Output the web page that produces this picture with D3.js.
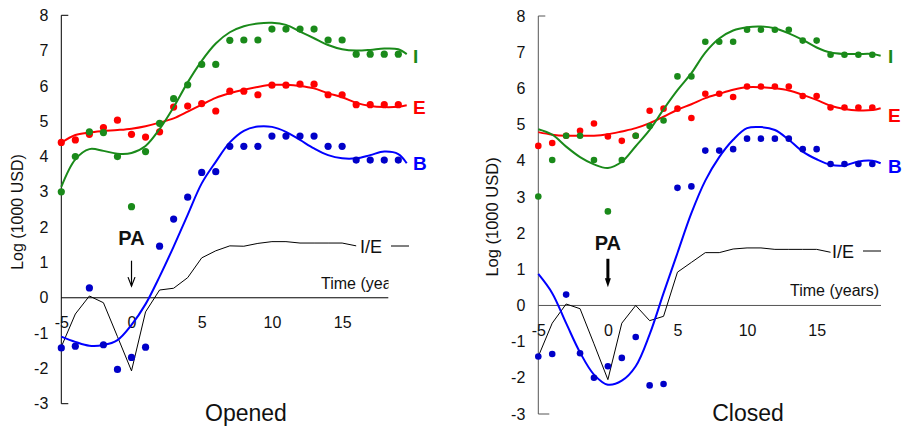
<!DOCTYPE html>
<html>
<head>
<meta charset="utf-8">
<script src="https://cdn.jsdelivr.net/npm/d3@7"></script>
<style>
  body { margin: 0; background: #fff; }
  text { font-family: "Liberation Sans", Arial, sans-serif; }
</style>
</head>
<body>
<div id="chart"></div>
<script>
// years of the observations
const years = [-5,-4,-3,-2,-1,0,1,2,3,4,5,6,7,8,9,10,11,12,13,14,15,16,17,18,19];
const fitYears = [-5,-4,-3,-2,-1,0,1,2,3,4,5,6,7,8,9,10,11,12,13,14,15,16,17,18,19,19.6];
const ieYears = [-5,-4,-3,-2,-1,0,1,2,3,4,5,6,7,8,9,10,11,12,13,14,15,16];
const xTicks = [-5,0,5,10,15];
const yTicks = [-3,-2,-1,0,1,2,3,4,5,6,7,8];

// Opened
const openI = [3.0,4.0,4.7,4.68,4.0,2.58,4.14,4.94,5.64,6.03,6.61,6.61,7.29,7.3,7.3,7.61,7.61,7.61,7.61,7.3,7.3,6.9,6.9,6.9,6.9];
const openE = [4.4,4.47,4.63,4.82,5.03,4.63,4.55,4.7,5.4,5.43,5.5,5.29,5.85,5.85,5.75,6.02,6.02,6.05,6.05,5.75,5.75,5.47,5.47,5.47,5.47];
const openB = [-1.42,-1.37,0.28,-1.33,-2.03,-1.69,-1.4,1.46,2.23,2.85,3.55,3.57,4.29,4.29,4.29,4.58,4.58,4.58,4.58,4.29,4.29,3.9,3.9,3.9,3.9];
const openFitI = [3.14,3.92,4.21,4.16,4.08,4.1,4.3,4.78,5.4,6.1,6.71,7.2,7.52,7.69,7.77,7.79,7.73,7.54,7.35,7.16,7.04,7.0,7.02,7.06,7.04,6.9];
const openFitE = [4.39,4.61,4.68,4.72,4.75,4.79,4.86,4.96,5.08,5.27,5.47,5.66,5.79,5.89,5.97,6.03,6.03,6.0,5.93,5.79,5.68,5.52,5.43,5.4,5.41,5.45];
const openFitB = [-1.1,-1.25,-1.36,-1.34,-1.2,-0.77,-0.18,0.6,1.45,2.35,3.24,3.85,4.4,4.73,4.85,4.84,4.7,4.47,4.23,4.04,3.95,3.95,4.04,4.14,4.07,3.81];
const openIE = [-1.39,-0.46,0.05,-0.14,-1.1,-2.07,-0.4,0.22,0.27,0.57,1.13,1.33,1.47,1.46,1.54,1.59,1.59,1.55,1.55,1.55,1.55,1.47];

// Closed
const closeI = [3.01,4.02,4.69,4.69,4.02,2.6,4.02,4.69,4.96,5.11,6.33,6.33,7.29,7.29,7.29,7.62,7.62,7.62,7.62,7.32,7.32,6.93,6.93,6.93,6.93];
const closeE = [4.41,4.49,4.69,4.83,5.03,4.67,4.55,4.69,5.38,5.44,5.44,5.18,5.85,5.85,5.76,6.05,6.05,6.05,6.05,5.79,5.79,5.47,5.47,5.47,5.47];
const closeB = [-1.41,-1.34,0.30,-1.32,-2.0,-1.68,-1.45,-0.87,-2.21,-2.17,3.25,3.29,4.28,4.28,4.32,4.61,4.61,4.61,4.61,4.32,4.32,3.91,3.91,3.91,3.91];
const closeFitI = [4.87,4.72,4.39,4.1,3.9,3.8,3.97,4.4,4.85,5.42,5.95,6.42,6.99,7.38,7.6,7.69,7.71,7.66,7.52,7.34,7.13,6.99,6.95,6.95,6.95,6.9];
const closeFitE = [4.79,4.72,4.69,4.69,4.69,4.73,4.81,4.9,5.04,5.22,5.41,5.56,5.73,5.85,5.96,6.03,6.03,6.0,5.94,5.82,5.68,5.52,5.43,5.39,5.4,5.45];
const closeFitB = [0.87,0.34,-0.49,-1.3,-1.91,-2.19,-2.08,-1.68,-0.8,0.34,1.45,2.55,3.45,4.1,4.58,4.9,4.93,4.85,4.58,4.25,4.04,3.89,3.87,3.98,4.0,3.93];
const closeIE = [-1.41,-0.49,0.04,-0.09,-1.06,-2.05,-0.49,0.0,-0.42,-0.3,0.92,1.19,1.46,1.46,1.56,1.59,1.59,1.55,1.55,1.55,1.55,1.47];

const green = "#1a8a1a", red = "#ff0000", blue = "#0000ff", dotBlue = "#0000c8";

const svg = d3.select("#chart").append("svg")
  .attr("width", 902)
  .attr("height", 431);

svg.append("defs").append("clipPath").attr("id", "clipL")
  .append("rect").attr("x", 0).attr("y", 0).attr("width", 388.5).attr("height", 431);

function panel(p) {
  var x = d3.scaleLinear().domain([-5, 19]).range([p.x0, p.x1]);
  var y = d3.scaleLinear().domain([-3, 8]).range([p.yb, p.yt]);
  var g = svg.append("g");

  // y axis bracket
  g.append("path")
    .attr("d", "M" + (x(-5) + p.tick) + "," + y(8) + "H" + x(-5) + "V" + y(-3) + "H" + (x(-5) + p.tickB))
    .attr("fill", "none").attr("stroke", p.axisColor).attr("stroke-width", 1);

  var ya = g.append("g")
    .attr("transform", "translate(" + x(-5) + ",0)")
    .call(d3.axisLeft(y).tickValues(yTicks).tickSize(0).tickPadding(p.yPad).tickFormat(d => String(d)));
  ya.select(".domain").remove();
  ya.selectAll("text").style("font-size", p.fs + "px").attr("fill", "#111");

  // x axis at zero
  g.append("line")
    .attr("x1", x(-5)).attr("x2", p.xEnd)
    .attr("y1", y(0)).attr("y2", y(0))
    .attr("stroke", p.axisColor).attr("stroke-width", 1);

  var xa = g.append("g")
    .attr("transform", "translate(0," + y(0) + ")")
    .call(d3.axisBottom(x).tickValues(xTicks).tickSize(0).tickPadding(p.xPad).tickFormat(d => String(d)));
  xa.select(".domain").remove();
  xa.selectAll("text").style("font-size", p.fs + "px").attr("fill", "#111");

  var tl = g.append("text")
    .attr("x", p.timeX).attr("y", y(0) - 9)
    .style("font-size", p.timeFs + "px")
    .attr("fill", "#111")
    .text("Time (years)");
  if (p.clip) tl.attr("clip-path", "url(#" + p.clip + ")");

  g.append("text")
    .attr("transform", "translate(" + p.labX + "," + p.labY + ") rotate(-90)")
    .attr("text-anchor", "middle")
    .style("font-size", p.labFs + "px")
    .attr("fill", "#111")
    .text("Log (1000 USD)");

  // I/E line
  var ie = d3.line().x((d, i) => x(ieYears[i])).y(d => y(d));
  g.append("path").datum(p.ie)
    .attr("d", ie).attr("fill", "none").attr("stroke", "#000").attr("stroke-width", 1);

  var fit = d3.line().x((d, i) => x(fitYears[i])).y(d => y(d)).curve(d3.curveCatmullRom);

  var series = [
    { dots: p.E, fit: p.fitE, c: red, dc: red },
    { dots: p.I, fit: p.fitI, c: green, dc: green },
    { dots: p.B, fit: p.fitB, c: blue, dc: dotBlue }
  ];
  series.forEach(function(s) {
    g.append("path").datum(s.fit)
      .attr("d", fit).attr("fill", "none").attr("stroke", s.c).attr("stroke-width", 2);
    g.selectAll(null).data(s.dots).enter().append("circle")
      .attr("cx", (d, i) => x(years[i]))
      .attr("cy", d => y(d))
      .attr("r", p.r)
      .attr("fill", s.dc);
  });

  // series names
  [["I", green, p.labI], ["E", red, p.labE], ["B", blue, p.labB]].forEach(function(l) {
    g.append("text")
      .attr("x", x(p.nameX)).attr("y", y(l[2]))
      .attr("dy", "0.36em")
      .style("font-size", "19px").style("font-weight", "bold")
      .attr("fill", l[1])
      .text(l[0]);
  });

  // I/E label
  g.append("text")
    .attr("x", p.ieX).attr("y", p.ieY)
    .style("font-size", "18px").attr("fill", "#111")
    .text("I/E");
  g.append("line")
    .attr("x1", p.ieX + 31).attr("x2", p.ieX + 49)
    .attr("y1", p.ieY - 7).attr("y2", p.ieY - 7)
    .attr("stroke", "#000").attr("stroke-width", 1);

  // PA and arrow
  g.append("text")
    .attr("x", x(0)).attr("y", y(p.paY))
    .attr("text-anchor", "middle")
    .style("font-size", "20px").style("font-weight", "bold")
    .attr("fill", "#111")
    .text("PA");
  if (p.thick) {
    g.append("line").attr("x1", x(0)).attr("x2", x(0))
      .attr("y1", y(p.arrTop)).attr("y2", y(p.arrBot) - 8)
      .attr("stroke", "#000").attr("stroke-width", 3);
    g.append("path")
      .attr("d", "M" + (x(0) - 3) + "," + (y(p.arrBot) - 9) + "L" + x(0) + "," + y(p.arrBot) + "L" + (x(0) + 3) + "," + (y(p.arrBot) - 9) + "Z")
      .attr("fill", "#000");
  } else {
    g.append("line").attr("x1", x(0)).attr("x2", x(0))
      .attr("y1", y(p.arrTop)).attr("y2", y(p.arrBot))
      .attr("stroke", "#000").attr("stroke-width", 1.2);
    g.append("path")
      .attr("d", "M" + (x(0) - 3.5) + "," + (y(p.arrBot) - 9) + "L" + x(0) + "," + y(p.arrBot) + "L" + (x(0) + 3.5) + "," + (y(p.arrBot) - 9))
      .attr("fill", "none").attr("stroke", "#000").attr("stroke-width", 1.2);
  }

  g.append("text")
    .attr("x", p.titleX).attr("y", 421)
    .attr("text-anchor", "middle")
    .style("font-size", "23px").attr("fill", "#111")
    .text(p.title);
}

panel({
  x0: 61.3, x1: 398.3, yt: 15.3, yb: 403.7, xEnd: 388.3,
  tick: 7, tickB: 7, axisColor: "#000", yPad: 13, xPad: 19, fs: 16,
  timeX: 321, timeFs: 16, clip: "clipL", labX: 23, labY: 212, labFs: 16,
  I: openI, E: openE, B: openB, fitI: openFitI, fitE: openFitE, fitB: openFitB, ie: openIE,
  r: 3.6, nameX: 20.05, labI: 6.84, labE: 5.41, labB: 3.82,
  ieX: 360, ieY: 253, paY: 1.49, arrTop: 1.05, arrBot: 0.33, thick: false,
  titleX: 246, title: "Opened"
});

panel({
  x0: 538.3, x1: 872.3, yt: 16, yb: 414, xEnd: 881,
  tick: 7, tickB: 11, axisColor: "#555", yPad: 13, xPad: 19, fs: 16,
  timeX: 790, timeFs: 16, clip: null, labX: 498, labY: 217, labFs: 16.5,
  I: closeI, E: closeE, B: closeB, fitI: closeFitI, fitE: closeFitE, fitB: closeFitB, ie: closeIE,
  r: 3.3, nameX: 20.12, labI: 6.88, labE: 5.27, labB: 3.84,
  ieX: 832, ieY: 258, paY: 1.52, arrTop: 1.29, arrBot: 0.5, thick: true,
  titleX: 748, title: "Closed"
});
</script>
</body>
</html>
